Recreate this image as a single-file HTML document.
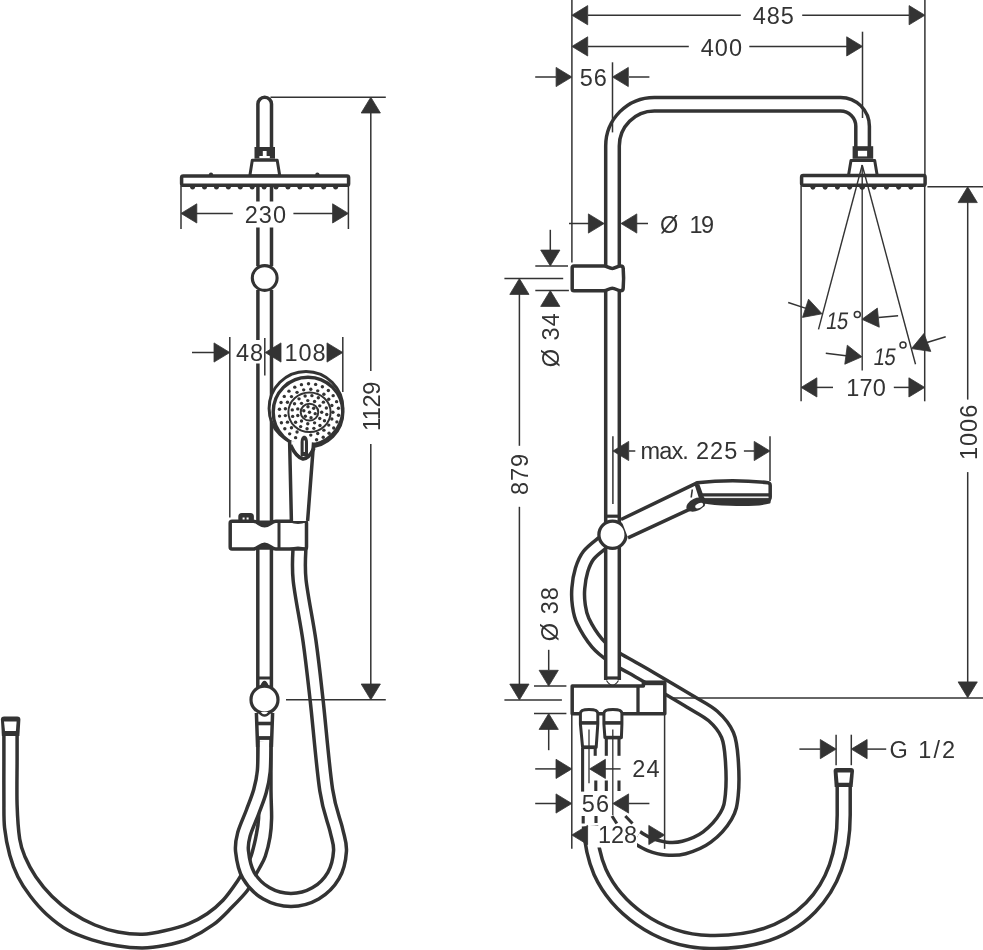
<!DOCTYPE html>
<html><head><meta charset="utf-8"><style>
html,body{margin:0;padding:0;background:#fff;}
svg{display:block;will-change:transform;}
text{font-family:"Liberation Sans",sans-serif;fill:#333;stroke:none;}
</style></head><body>
<svg width="983" height="950" viewBox="0 0 983 950" stroke="#333" stroke-linejoin="round" fill="none">
<rect x="0" y="0" width="983" height="950" fill="#fff" stroke="none"/>
<path d="M3.9,733 C3.9,737.5 3.9,748.83 3.9,760 C3.9,771.17 3.78,788.67 3.9,800 C4.02,811.33 3.62,818.8 4.6,828 C5.58,837.2 7.58,847.08 9.8,855.2 C12.02,863.32 14.47,869.85 17.9,876.7 C21.33,883.55 25.63,890.05 30.4,896.3 C35.17,902.55 40.23,908.53 46.5,914.2 C52.77,919.87 60.42,926.03 68,930.3 C75.58,934.57 83.83,937.22 92,939.8 C100.17,942.38 108.58,944.43 117,945.8 C125.42,947.17 134.6,948.05 142.5,948 C150.4,947.95 156.68,947.03 164.4,945.5 C172.12,943.97 180.65,942.27 188.8,938.8 C196.95,935.33 206.17,929.9 213.3,924.7 C220.43,919.5 225.92,913.3 231.6,907.6 C237.28,901.9 243.58,895.6 247.4,890.5 C251.22,885.4 252.48,880.75 254.5,877 C256.52,873.25 257.7,871.45 259.5,868 C261.3,864.55 263.55,861.42 265.3,856.3 C267.05,851.18 268.95,843.62 270,837.3 C271.05,830.98 271.43,826.28 271.6,818.4 C271.77,810.52 271.1,803.4 271,790 C270.9,776.6 271,746.67 271,738 L258,738 C258.07,746.67 258.3,776.6 258.4,790 C258.5,803.4 259.03,810.52 258.6,818.4 C258.17,826.28 256.83,831.77 255.8,837.3 C254.77,842.83 253.33,848.12 252.4,851.6 C251.47,855.08 251.43,855.47 250.2,858.2 C248.97,860.93 247.08,864.23 245,868 C242.92,871.77 241.37,875.42 237.7,880.8 C234.03,886.18 228.08,894.82 223,900.3 C217.92,905.78 212.9,909.83 207.2,913.7 C201.5,917.57 195.93,920.65 188.8,923.5 C181.67,926.35 172.12,929 164.4,930.8 C156.68,932.6 150.23,934.1 142.5,934.3 C134.77,934.5 125.93,933.55 118,932 C110.07,930.45 102.63,928.25 94.9,925 C87.17,921.75 78.77,917.28 71.6,912.5 C64.43,907.72 57.87,902.27 51.9,896.3 C45.93,890.33 40.27,883.25 35.8,876.7 C31.33,870.15 27.78,863.28 25.1,857 C22.42,850.72 21.03,847.67 19.7,839 C18.37,830.33 17.53,818.17 17.1,805 C16.67,791.83 17.1,772 17.1,760 C17.1,748 17.1,737.5 17.1,733 Z" stroke-width="3.5" fill="#fff"/>
<path d="M299.6,545 C299.6,550.83 297.95,564 299.6,580 C301.25,596 306.67,621 309.5,641 C312.33,661 313.82,675.17 316.6,700 C319.38,724.83 322.92,768.33 326.2,790 C329.48,811.67 334,819.83 336.3,830 C338.6,840.17 340.48,843.42 340,851 C339.52,858.58 337.52,868.43 333.44,875.5 C329.35,882.57 322.57,889.35 315.5,893.44 C308.43,897.52 299.17,900 291,900 C282.83,900 273.57,897.52 266.5,893.44 C259.43,889.35 252.65,882.57 248.56,875.5 C244.48,868.43 242.76,857.92 242,851 C241.24,844.08 242.25,840.5 244,834 C245.75,827.5 249.83,819.17 252.5,812 C255.17,804.83 258.12,797.83 260,791 C261.88,784.17 263.05,779.17 263.8,771 C264.55,762.83 264.38,746.83 264.5,742" stroke-width="16.4" fill="none"/>
<path d="M299.6,545 C299.6,550.83 297.95,564 299.6,580 C301.25,596 306.67,621 309.5,641 C312.33,661 313.82,675.17 316.6,700 C319.38,724.83 322.92,768.33 326.2,790 C329.48,811.67 334,819.83 336.3,830 C338.6,840.17 340.48,843.42 340,851 C339.52,858.58 337.52,868.43 333.44,875.5 C329.35,882.57 322.57,889.35 315.5,893.44 C308.43,897.52 299.17,900 291,900 C282.83,900 273.57,897.52 266.5,893.44 C259.43,889.35 252.65,882.57 248.56,875.5 C244.48,868.43 242.76,857.92 242,851 C241.24,844.08 242.25,840.5 244,834 C245.75,827.5 249.83,819.17 252.5,812 C255.17,804.83 258.12,797.83 260,791 C261.88,784.17 263.05,779.17 263.8,771 C264.55,762.83 264.38,746.83 264.5,742" stroke="#fff" stroke-width="9.4" fill="none"/>
<path d="M0.9,719.6 Q0.9,716.4 4.1,716.4 L17.2,716.4 Q20.4,716.4 20.4,719.6 L19.4,736 L1.9,736 Z" fill="#333" stroke="none"/>
<path d="M4,721.6 L16.6,721.6 L15.9,731.1 L5,731.1 Z" fill="#fff" stroke="none"/>
<path d="M257.9,147 V104 A6.8,6.8 0 0 1 271.5,104 V147" stroke-width="3.5" fill="none" />
<line x1="257.9" y1="186" x2="257.9" y2="201.5" stroke-width="3.5" stroke-linecap="butt"/>
<line x1="257.9" y1="227.5" x2="257.9" y2="266" stroke-width="3.5" stroke-linecap="butt"/>
<line x1="257.9" y1="290" x2="257.9" y2="340" stroke-width="3.5" stroke-linecap="butt"/>
<line x1="271.5" y1="186" x2="271.5" y2="201.5" stroke-width="3.5" stroke-linecap="butt"/>
<line x1="271.5" y1="227.5" x2="271.5" y2="266" stroke-width="3.5" stroke-linecap="butt"/>
<line x1="271.5" y1="290" x2="271.5" y2="521" stroke-width="3.5" stroke-linecap="butt"/>
<line x1="257.9" y1="363.5" x2="257.9" y2="521" stroke-width="3.5" stroke-linecap="butt"/>
<line x1="257.8" y1="549" x2="257.8" y2="688" stroke-width="3.5" stroke-linecap="butt"/>
<line x1="271.4" y1="549" x2="271.4" y2="688" stroke-width="3.5" stroke-linecap="butt"/>
<rect x="254.5" y="147" width="20.5" height="11.7" fill="#333" stroke="none"/>
<rect x="262.8" y="151" width="3.8" height="6.2" fill="#fff" stroke="none"/><rect x="259.4" y="156" width="10.4" height="2" fill="#fff" stroke="none"/>
<path d="M252.3,160.3 L277.2,160.3 L279.8,176 L249.8,176 Z" stroke-width="3" fill="#fff" />
<rect x="181.6" y="176" width="167" height="9.3" rx="1.6" stroke-width="3.5" fill="#fff"/>
<circle cx="211" cy="174.6" r="2.1" fill="#333" stroke="none"/>
<circle cx="317.4" cy="174.6" r="2.1" fill="#333" stroke="none"/>
<circle cx="192.6" cy="187.2" r="2.4" fill="#333" stroke="none"/>
<circle cx="204.52" cy="187.2" r="2.4" fill="#333" stroke="none"/>
<circle cx="216.44" cy="187.2" r="2.4" fill="#333" stroke="none"/>
<circle cx="228.36" cy="187.2" r="2.4" fill="#333" stroke="none"/>
<circle cx="240.28" cy="187.2" r="2.4" fill="#333" stroke="none"/>
<circle cx="252.2" cy="187.2" r="2.4" fill="#333" stroke="none"/>
<circle cx="264.12" cy="187.2" r="2.4" fill="#333" stroke="none"/>
<circle cx="276.04" cy="187.2" r="2.4" fill="#333" stroke="none"/>
<circle cx="287.96" cy="187.2" r="2.4" fill="#333" stroke="none"/>
<circle cx="299.88" cy="187.2" r="2.4" fill="#333" stroke="none"/>
<circle cx="311.8" cy="187.2" r="2.4" fill="#333" stroke="none"/>
<circle cx="323.72" cy="187.2" r="2.4" fill="#333" stroke="none"/>
<circle cx="335.64" cy="187.2" r="2.4" fill="#333" stroke="none"/>
<circle cx="264.7" cy="278" r="12.4" stroke-width="3.1" fill="#fff"/>
<line x1="257.6" y1="678" x2="271.4" y2="678" stroke-width="3" stroke-linecap="butt"/>
<path d="M261.5,686 Q264.5,678 267.5,686" stroke-width="2.5" fill="#333" />
<path d="M256.4,713 L257.6,747 M272.6,713 L271.4,747" stroke-width="3.5" fill="none" />
<line x1="256.6" y1="723.5" x2="272.4" y2="723.5" stroke-width="3.6" stroke-linecap="butt"/>
<line x1="257.2" y1="738" x2="271.8" y2="738" stroke-width="3.2" stroke-linecap="butt"/>
<circle cx="264.5" cy="699.7" r="13.5" stroke-width="3.2" fill="#fff"/>
<path d="M259,712 Q264.5,719 270,712" stroke-width="2.5" fill="#fff" />
<path d="M232,521.3 L253.4,521.3 C257.5,521.3 260,525.8 264.6,525.8 C269.2,525.8 271.7,521.3 275.8,521.3 L304.6,521.3 Q306.5,521.3 306.5,523.3 L306.5,547 Q306.5,549 304.6,549 L275.8,549 C271.7,549 269.2,544.3 264.6,544.3 C260,544.3 257.5,549 253.4,549 L232,549 Q230.2,549 230.2,547 L230.2,523.3 Q230.2,521.3 232,521.3 Z" stroke-width="3.5" fill="#fff" />
<path d="M253.4,521.3 C257.5,521.3 260,525.8 264.6,525.8 C269.2,525.8 271.7,521.3 275.8,521.3 Z" stroke-width="1.5" fill="#333" />
<path d="M253.4,549 C257.5,549 260,544.3 264.6,544.3 C269.2,544.3 271.7,549 275.8,549 Z" stroke-width="1.5" fill="#333" />
<line x1="279" y1="521.3" x2="279" y2="549" stroke-width="3" stroke-linecap="butt"/>
<path d="M290,521.3 Q298,524.5 306,521.3" stroke-width="2.2" fill="none" />
<path d="M290,549 Q298,546 306,549" stroke-width="2.2" fill="none" />
<rect x="239.6" y="514.4" width="13" height="7" rx="2.2" stroke-width="2.6" fill="#333"/>
<rect x="242.6" y="517.5" width="2" height="2" fill="#fff" stroke="none"/><rect x="246.6" y="517.5" width="2" height="2" fill="#fff" stroke="none"/>
<circle cx="306" cy="408.4" r="36.9" stroke-width="3.0" fill="#fff"/>
<circle cx="308" cy="412" r="34.8" stroke-width="3.4" fill="none"/>
<ellipse cx="309.5" cy="412.2" rx="21.1" ry="19.8" stroke-width="2"/>
<ellipse cx="309.5" cy="412.2" rx="8.8" ry="8.4" stroke-width="2"/>
<circle cx="309.5" cy="412.2" r="1.7" fill="#333" stroke="none"/>
<circle cx="315.2" cy="413.67" r="1.7" fill="#333" stroke="none"/>
<circle cx="311.03" cy="417.67" r="1.7" fill="#333" stroke="none"/>
<circle cx="305.33" cy="416.21" r="1.7" fill="#333" stroke="none"/>
<circle cx="303.8" cy="410.73" r="1.7" fill="#333" stroke="none"/>
<circle cx="307.97" cy="406.73" r="1.7" fill="#333" stroke="none"/>
<circle cx="313.67" cy="408.19" r="1.7" fill="#333" stroke="none"/>
<circle cx="321.7" cy="412.2" r="1.7" fill="#333" stroke="none"/>
<circle cx="319.76" cy="418.53" r="1.7" fill="#333" stroke="none"/>
<circle cx="314.57" cy="422.85" r="1.7" fill="#333" stroke="none"/>
<circle cx="307.76" cy="423.79" r="1.7" fill="#333" stroke="none"/>
<circle cx="301.51" cy="421.05" r="1.7" fill="#333" stroke="none"/>
<circle cx="297.79" cy="415.5" r="1.7" fill="#333" stroke="none"/>
<circle cx="297.79" cy="408.9" r="1.7" fill="#333" stroke="none"/>
<circle cx="301.51" cy="403.35" r="1.7" fill="#333" stroke="none"/>
<circle cx="307.76" cy="400.61" r="1.7" fill="#333" stroke="none"/>
<circle cx="314.57" cy="401.55" r="1.7" fill="#333" stroke="none"/>
<circle cx="319.76" cy="405.87" r="1.7" fill="#333" stroke="none"/>
<circle cx="326.73" cy="414.52" r="1.7" fill="#333" stroke="none"/>
<circle cx="324.49" cy="420.68" r="1.7" fill="#333" stroke="none"/>
<circle cx="319.97" cy="425.54" r="1.7" fill="#333" stroke="none"/>
<circle cx="313.86" cy="428.37" r="1.7" fill="#333" stroke="none"/>
<circle cx="307.08" cy="428.74" r="1.7" fill="#333" stroke="none"/>
<circle cx="300.67" cy="426.59" r="1.7" fill="#333" stroke="none"/>
<circle cx="295.6" cy="422.25" r="1.7" fill="#333" stroke="none"/>
<circle cx="292.65" cy="416.38" r="1.7" fill="#333" stroke="none"/>
<circle cx="292.27" cy="409.88" r="1.7" fill="#333" stroke="none"/>
<circle cx="294.51" cy="403.72" r="1.7" fill="#333" stroke="none"/>
<circle cx="299.03" cy="398.86" r="1.7" fill="#333" stroke="none"/>
<circle cx="305.14" cy="396.03" r="1.7" fill="#333" stroke="none"/>
<circle cx="311.92" cy="395.66" r="1.7" fill="#333" stroke="none"/>
<circle cx="318.33" cy="397.81" r="1.7" fill="#333" stroke="none"/>
<circle cx="323.4" cy="402.15" r="1.7" fill="#333" stroke="none"/>
<circle cx="326.35" cy="408.02" r="1.7" fill="#333" stroke="none"/>
<circle cx="332.9" cy="412.2" r="1.7" fill="#333" stroke="none"/>
<circle cx="331.84" cy="418.96" r="1.7" fill="#333" stroke="none"/>
<circle cx="328.75" cy="425.12" r="1.7" fill="#333" stroke="none"/>
<circle cx="323.9" cy="430.14" r="1.7" fill="#333" stroke="none"/>
<circle cx="317.73" cy="433.56" r="1.7" fill="#333" stroke="none"/>
<circle cx="310.79" cy="435.08" r="1.7" fill="#333" stroke="none"/>
<circle cx="297.05" cy="432.07" r="1.7" fill="#333" stroke="none"/>
<circle cx="291.48" cy="427.81" r="1.7" fill="#333" stroke="none"/>
<circle cx="287.47" cy="422.16" r="1.7" fill="#333" stroke="none"/>
<circle cx="285.37" cy="415.62" r="1.7" fill="#333" stroke="none"/>
<circle cx="285.37" cy="408.78" r="1.7" fill="#333" stroke="none"/>
<circle cx="287.47" cy="402.24" r="1.7" fill="#333" stroke="none"/>
<circle cx="291.48" cy="396.59" r="1.7" fill="#333" stroke="none"/>
<circle cx="297.05" cy="392.33" r="1.7" fill="#333" stroke="none"/>
<circle cx="303.68" cy="389.83" r="1.7" fill="#333" stroke="none"/>
<circle cx="310.79" cy="389.32" r="1.7" fill="#333" stroke="none"/>
<circle cx="317.73" cy="390.84" r="1.7" fill="#333" stroke="none"/>
<circle cx="323.9" cy="394.26" r="1.7" fill="#333" stroke="none"/>
<circle cx="328.75" cy="399.28" r="1.7" fill="#333" stroke="none"/>
<circle cx="331.84" cy="405.44" r="1.7" fill="#333" stroke="none"/>
<circle cx="338.54" cy="415.18" r="1.7" fill="#333" stroke="none"/>
<circle cx="336.94" cy="421.88" r="1.7" fill="#333" stroke="none"/>
<circle cx="333.71" cy="428.02" r="1.7" fill="#333" stroke="none"/>
<circle cx="329.05" cy="433.23" r="1.7" fill="#333" stroke="none"/>
<circle cx="323.22" cy="437.23" r="1.7" fill="#333" stroke="none"/>
<circle cx="316.57" cy="439.77" r="1.7" fill="#333" stroke="none"/>
<circle cx="295.62" cy="437.66" r="1.7" fill="#333" stroke="none"/>
<circle cx="289.67" cy="433.84" r="1.7" fill="#333" stroke="none"/>
<circle cx="284.83" cy="428.77" r="1.7" fill="#333" stroke="none"/>
<circle cx="281.4" cy="422.74" r="1.7" fill="#333" stroke="none"/>
<circle cx="279.58" cy="416.09" r="1.7" fill="#333" stroke="none"/>
<circle cx="279.46" cy="409.22" r="1.7" fill="#333" stroke="none"/>
<circle cx="281.06" cy="402.52" r="1.7" fill="#333" stroke="none"/>
<circle cx="284.29" cy="396.38" r="1.7" fill="#333" stroke="none"/>
<circle cx="288.95" cy="391.17" r="1.7" fill="#333" stroke="none"/>
<circle cx="294.78" cy="387.17" r="1.7" fill="#333" stroke="none"/>
<circle cx="301.43" cy="384.63" r="1.7" fill="#333" stroke="none"/>
<circle cx="308.52" cy="383.69" r="1.7" fill="#333" stroke="none"/>
<circle cx="315.64" cy="384.41" r="1.7" fill="#333" stroke="none"/>
<circle cx="322.38" cy="386.74" r="1.7" fill="#333" stroke="none"/>
<circle cx="328.33" cy="390.56" r="1.7" fill="#333" stroke="none"/>
<circle cx="333.17" cy="395.63" r="1.7" fill="#333" stroke="none"/>
<circle cx="336.6" cy="401.66" r="1.7" fill="#333" stroke="none"/>
<circle cx="338.42" cy="408.31" r="1.7" fill="#333" stroke="none"/>
<path d="M289.6,441 L313.6,442 L307.6,521 L291.4,521 Z" stroke-width="0" fill="#fff" stroke="none"/>
<path d="M289.6,440.5 L291.4,521 M313.6,442.5 L307.6,521" stroke-width="3.5" fill="none" />
<path d="M290.5,445 Q303,471 314,448" stroke-width="3.8" fill="none" />
<path d="M292.5,448.5 Q303,466 312.5,450.5" stroke-width="1.8" fill="none" />
<path d="M300.6,456 L300.6,442.5 C300.6,438.5 302.2,435.8 304.3,435.8 C306.4,435.8 308,438.5 308,442.5 L308,456 Z" fill="#333" stroke="none"/>
<line x1="304.3" y1="440.5" x2="304.3" y2="452" stroke="#fff" stroke-width="1.3"/>
<line x1="270.5" y1="97.2" x2="385.8" y2="97.2" stroke-width="1.5" stroke-linecap="butt"/>
<line x1="286" y1="699.8" x2="385.8" y2="699.8" stroke-width="1.5" stroke-linecap="butt"/>
<line x1="370.8" y1="110" x2="370.8" y2="371" stroke-width="1.5" stroke-linecap="butt"/>
<line x1="370.8" y1="444" x2="370.8" y2="688" stroke-width="1.5" stroke-linecap="butt"/>
<polygon points="370.8,97.2 380.4,113 361.2,113" fill="#333" stroke="#333" stroke-width="0.8"/>
<polygon points="370.8,699.8 361.2,684 380.4,684" fill="#333" stroke="#333" stroke-width="0.8"/>
<text x="379.9" y="406.6" font-size="23.5" text-anchor="middle" transform="rotate(-90 379.9 406.6)" letter-spacing="-0.4">1129</text>
<line x1="181" y1="186" x2="181" y2="229" stroke-width="1.5" stroke-linecap="butt"/>
<line x1="348.4" y1="186" x2="348.4" y2="229" stroke-width="1.5" stroke-linecap="butt"/>
<line x1="194" y1="213.4" x2="232.8" y2="213.4" stroke-width="1.5" stroke-linecap="butt"/>
<line x1="293.4" y1="213.4" x2="335" y2="213.4" stroke-width="1.5" stroke-linecap="butt"/>
<polygon points="181,213.4 196.8,203.8 196.8,223" fill="#333" stroke="#333" stroke-width="0.8"/>
<polygon points="348.4,213.4 332.6,223 332.6,203.8" fill="#333" stroke="#333" stroke-width="0.8"/>
<text x="265.9" y="222.6" font-size="23.5" text-anchor="middle" letter-spacing="1.0">230</text>
<line x1="192" y1="352.5" x2="215" y2="352.5" stroke-width="1.5" stroke-linecap="butt"/>
<polygon points="229.8,352.5 214,362.1 214,342.9" fill="#333" stroke="#333" stroke-width="0.8"/>
<polygon points="265.2,352.5 281,342.9 281,362.1" fill="#333" stroke="#333" stroke-width="0.8"/>
<polygon points="342.8,352.5 327,362.1 327,342.9" fill="#333" stroke="#333" stroke-width="0.8"/>
<line x1="229.8" y1="337" x2="229.8" y2="517.5" stroke-width="1.5" stroke-linecap="butt"/>
<line x1="264.8" y1="338" x2="264.8" y2="375.6" stroke-width="1.5" stroke-linecap="butt"/>
<line x1="342.8" y1="337" x2="342.8" y2="392" stroke-width="1.5" stroke-linecap="butt"/>
<text x="250.1" y="361.4" font-size="23.5" text-anchor="middle" letter-spacing="1.0">48</text>
<text x="305.5" y="361.4" font-size="23.5" text-anchor="middle" letter-spacing="1.0">108</text>
<path d="M603,542.5 C600.6,544.62 592.17,550.63 588.6,555.2 C585.03,559.77 583.32,564.37 581.6,569.9 C579.88,575.43 578.77,582.55 578.3,588.4 C577.83,594.25 578.02,599.57 578.8,605 C579.58,610.43 579.97,614.67 583,621 C586.03,627.33 592,637.08 597,643 C602,648.92 607.17,652.42 613,656.5 C618.83,660.58 625.5,663.75 632,667.5 C638.5,671.25 642.33,673.33 652,679 C661.67,684.67 679.83,695.33 690,701.5 C700.17,707.67 706.75,710.42 713,716 C719.25,721.58 724.37,727.67 727.5,735 C730.63,742.33 731.08,750 731.8,760 C732.52,770 732.77,785.67 731.8,795 C730.83,804.33 730.13,809 726,816 C721.87,823 714,831.75 707,837 C700,842.25 690.83,845.57 684,847.5 C677.17,849.43 671.67,849.1 666,848.6 C660.33,848.1 654.83,846.35 650,844.5 C645.17,842.65 639.17,838.67 637,837.5" stroke-width="16.4" fill="none"/>
<path d="M603,542.5 C600.6,544.62 592.17,550.63 588.6,555.2 C585.03,559.77 583.32,564.37 581.6,569.9 C579.88,575.43 578.77,582.55 578.3,588.4 C577.83,594.25 578.02,599.57 578.8,605 C579.58,610.43 579.97,614.67 583,621 C586.03,627.33 592,637.08 597,643 C602,648.92 607.17,652.42 613,656.5 C618.83,660.58 625.5,663.75 632,667.5 C638.5,671.25 642.33,673.33 652,679 C661.67,684.67 679.83,695.33 690,701.5 C700.17,707.67 706.75,710.42 713,716 C719.25,721.58 724.37,727.67 727.5,735 C730.63,742.33 731.08,750 731.8,760 C732.52,770 732.77,785.67 731.8,795 C730.83,804.33 730.13,809 726,816 C721.87,823 714,831.75 707,837 C700,842.25 690.83,845.57 684,847.5 C677.17,849.43 671.67,849.1 666,848.6 C660.33,848.1 654.83,846.35 650,844.5 C645.17,842.65 639.17,838.67 637,837.5" stroke="#fff" stroke-width="9.4" fill="none"/>
<path d="M843.7,783 L843.7,815 C843.7,890 800,944 710,942 C655,941 615,905 600,872 C594,858 591,845 590,826" stroke-width="16.5" fill="none"/>
<path d="M843.7,783 L843.7,815 C843.7,890 800,944 710,942 C655,941 615,905 600,872 C594,858 591,845 590,826" stroke="#fff" stroke-width="9.5" fill="none"/>
<path d="M833.6,771 Q833.6,768 836.6,768 L851,768 Q854,768 854,771 L852.6,787 L834.7,787 Z" fill="#333" stroke="none"/>
<path d="M837.6,772.6 L850.3,772.6 L849.2,782.7 L838.5,782.7 Z" fill="#fff" stroke="none"/>
<path d="M612.5,680 V146 A41.8,41.8 0 0 1 654.3,104.2 H840.5 A22.1,22.1 0 0 1 862.6,126.3 V147" stroke-width="17.1" fill="none"/>
<path d="M612.5,680 V146 A41.8,41.8 0 0 1 654.3,104.2 H840.5 A22.1,22.1 0 0 1 862.6,126.3 V147" stroke="#fff" stroke-width="10.1" fill="none"/>
<rect x="852.6" y="146.2" width="20.6" height="12.6" fill="#333" stroke="none"/>
<rect x="857.9" y="150.8" width="9.2" height="5.6" fill="#fff" stroke="none"/>
<path d="M851,160.6 L874.7,160.6 L877.3,176 L848.4,176 Z" stroke-width="3" fill="#fff" />
<rect x="801.6" y="175.6" width="123.5" height="9.6" rx="1.6" stroke-width="3.5" fill="#fff"/>
<circle cx="812.9" cy="187.3" r="2.4" fill="#333" stroke="none"/>
<circle cx="825.15" cy="187.3" r="2.4" fill="#333" stroke="none"/>
<circle cx="837.4" cy="187.3" r="2.4" fill="#333" stroke="none"/>
<circle cx="849.65" cy="187.3" r="2.4" fill="#333" stroke="none"/>
<circle cx="861.9" cy="187.3" r="2.4" fill="#333" stroke="none"/>
<circle cx="874.15" cy="187.3" r="2.4" fill="#333" stroke="none"/>
<circle cx="886.4" cy="187.3" r="2.4" fill="#333" stroke="none"/>
<circle cx="898.65" cy="187.3" r="2.4" fill="#333" stroke="none"/>
<circle cx="910.9" cy="187.3" r="2.4" fill="#333" stroke="none"/>
<circle cx="862.6" cy="187.3" r="2.4" fill="#333" stroke="none"/>
<path d="M574,265.9 L604,265.9 C607,265.9 609,268.4 612.3,268.4 C615.5,268.4 617.5,265.9 620.5,265.9 Q623.2,265.9 623.2,268.5 C623.8,276 623.8,281 623.2,288 Q623.2,290.8 620.5,290.8 C617.5,290.8 615.5,288.2 612.3,288.2 C609,288.2 607,290.8 604,290.8 L574,290.8 Q572.2,290.8 572.2,289 L572.2,267.7 Q572.2,265.9 574,265.9 Z" stroke-width="3.5" fill="#fff" />
<line x1="605.7" y1="516.2" x2="619.3" y2="516.2" stroke-width="3.2" stroke-linecap="butt"/>
<circle cx="612.5" cy="534.8" r="13.6" stroke-width="3.3" fill="#fff"/>
<line x1="605.7" y1="678" x2="619.3" y2="678" stroke-width="3.2" stroke-linecap="butt"/>
<path d="M606.5,680.5 Q612.5,690 618.5,680.5" stroke-width="1.2" fill="none" />
<path d="M621,519.5 L696,483.4 L703,505 L687.3,510.3 L628,537.8" stroke-width="3.5" fill="#fff" />
<path d="M697,482.8 Q733,478.5 768,482.8 Q770.2,483.2 770.2,485.5 L770.2,497 Q770.2,499.5 768,499.5 L703,499.5 Z" stroke-width="3.5" fill="#fff" />
<line x1="701.8" y1="494.9" x2="770.2" y2="494.9" stroke-width="3.2" stroke-linecap="butt"/>
<path d="M703.5,499.5 L770,499.5 L769.5,502.5 C760,505 745,505.5 730,504.8 C718,504.5 710,503.8 704,502.5 Z" stroke-width="2" fill="#333" />
<line x1="705" y1="497.6" x2="768.5" y2="497.6" stroke-width="1.1" stroke-linecap="butt"/>
<line x1="705" y1="497.6" x2="768.5" y2="497.6" stroke="#fff" stroke-width="1"/>
<line x1="692.3" y1="489.5" x2="691.2" y2="497.5" stroke-width="1.6" stroke-linecap="butt"/>
<ellipse cx="696" cy="504.6" rx="10.2" ry="6.2" transform="rotate(-25 696 504.6)" fill="#333" stroke="none"/>
<ellipse cx="699.2" cy="505.6" rx="4.2" ry="2.3" transform="rotate(-25 699.2 505.6)" fill="#fff" stroke="none"/>
<path d="M572.2,685.9 L643.4,685.9 L643.4,682.6 L664.8,682.6 L664.8,713.7 L572.2,713.7 Z" stroke-width="3.5" fill="#fff"/>
<line x1="643.4" y1="682.9" x2="664.8" y2="682.9" stroke-width="4.6" stroke-linecap="butt"/>
<line x1="638" y1="685.9" x2="638" y2="713.7" stroke-width="3.3" stroke-linecap="butt"/>
<path d="M580.4,713.5 Q580.4,709.6 589,709.6 Q597.8,709.6 597.8,713.5 L597.8,724 L596.2,747.3 L582.6,747.3 L580.4,724 Z" stroke-width="3" fill="#fff" />
<line x1="580.4" y1="722.9" x2="597.8" y2="722.9" stroke-width="3.6" stroke-linecap="butt"/>
<line x1="582.6" y1="747.3" x2="596.2" y2="747.3" stroke-width="3.6" stroke-linecap="butt"/>
<path d="M603.9,713.5 Q603.9,709.6 612.9,709.6 Q621.9,709.6 621.9,713.5 L621.9,724 L621.4,737.6 L604.9,737.6 L603.9,724 Z" stroke-width="3" fill="#fff" />
<line x1="603.9" y1="722.9" x2="621.9" y2="722.9" stroke-width="3.6" stroke-linecap="butt"/>
<line x1="604.9" y1="737.6" x2="621.4" y2="737.6" stroke-width="3.6" stroke-linecap="butt"/>
<line x1="582.6" y1="748" x2="582.6" y2="791.6" stroke-width="3.1" stroke-linecap="butt"/>
<line x1="595.2" y1="748" x2="595.2" y2="755.8" stroke-width="3.1" stroke-linecap="butt"/>
<line x1="606.3" y1="739" x2="606.3" y2="755.8" stroke-width="3.1" stroke-linecap="butt"/>
<line x1="619" y1="739" x2="619" y2="755.8" stroke-width="3.1" stroke-linecap="butt"/>
<line x1="595.8" y1="780.5" x2="595.8" y2="791" stroke-width="3.1" stroke-linecap="butt"/>
<line x1="606.3" y1="780.5" x2="606.3" y2="791" stroke-width="3.1" stroke-linecap="butt"/>
<line x1="619" y1="780.5" x2="619" y2="791" stroke-width="3.1" stroke-linecap="butt"/>
<line x1="583.2" y1="816" x2="583.2" y2="823.5" stroke-width="3.1" stroke-linecap="butt"/>
<line x1="596" y1="816" x2="596" y2="823" stroke-width="3.1" stroke-linecap="butt"/>
<line x1="612" y1="816" x2="616.8" y2="823.5" stroke-width="3.1" stroke-linecap="butt"/>
<line x1="625.3" y1="816" x2="632.5" y2="823.5" stroke-width="3.1" stroke-linecap="butt"/>
<line x1="589" y1="729.5" x2="589" y2="783.2" stroke-width="1.3" stroke-linecap="butt"/>
<line x1="612.8" y1="729.5" x2="612.8" y2="815" stroke-width="1.3" stroke-linecap="butt"/>
<line x1="571.9" y1="0" x2="571.9" y2="262.5" stroke-width="1.5" stroke-linecap="butt"/>
<line x1="924.9" y1="0" x2="924.9" y2="186.5" stroke-width="1.5" stroke-linecap="butt"/>
<line x1="862.5" y1="31.7" x2="862.5" y2="118" stroke-width="1.5" stroke-linecap="butt"/>
<line x1="612.5" y1="62.3" x2="612.5" y2="132.4" stroke-width="1.5" stroke-linecap="butt"/>
<line x1="588" y1="15.2" x2="740.8" y2="15.2" stroke-width="1.5" stroke-linecap="butt"/>
<line x1="802.2" y1="15.2" x2="909" y2="15.2" stroke-width="1.5" stroke-linecap="butt"/>
<polygon points="571.9,15.2 587.7,5.6 587.7,24.8" fill="#333" stroke="#333" stroke-width="0.8"/>
<polygon points="924.9,15.2 909.1,24.8 909.1,5.6" fill="#333" stroke="#333" stroke-width="0.8"/>
<text x="773.8" y="24.3" font-size="23.5" text-anchor="middle" letter-spacing="1.0">485</text>
<line x1="588" y1="46.4" x2="688.8" y2="46.4" stroke-width="1.5" stroke-linecap="butt"/>
<line x1="749.3" y1="46.4" x2="847" y2="46.4" stroke-width="1.5" stroke-linecap="butt"/>
<polygon points="571.9,46.4 587.7,36.8 587.7,56" fill="#333" stroke="#333" stroke-width="0.8"/>
<polygon points="862.5,46.4 846.7,56 846.7,36.8" fill="#333" stroke="#333" stroke-width="0.8"/>
<text x="721.9" y="55.6" font-size="23.5" text-anchor="middle" letter-spacing="1.0">400</text>
<line x1="535.2" y1="77" x2="556" y2="77" stroke-width="1.5" stroke-linecap="butt"/>
<line x1="629" y1="77" x2="649.4" y2="77" stroke-width="1.5" stroke-linecap="butt"/>
<polygon points="571.9,77 556.1,86.6 556.1,67.4" fill="#333" stroke="#333" stroke-width="0.8"/>
<polygon points="612.5,77 628.3,67.4 628.3,86.6" fill="#333" stroke="#333" stroke-width="0.8"/>
<text x="593.7" y="85.6" font-size="23.5" text-anchor="middle" letter-spacing="1.0">56</text>
<line x1="569" y1="223.5" x2="590" y2="223.5" stroke-width="1.5" stroke-linecap="butt"/>
<line x1="636" y1="223.5" x2="648" y2="223.5" stroke-width="1.5" stroke-linecap="butt"/>
<polygon points="604.2,223.5 588.4,233.1 588.4,213.9" fill="#333" stroke="#333" stroke-width="0.8"/>
<polygon points="621,223.5 636.8,213.9 636.8,233.1" fill="#333" stroke="#333" stroke-width="0.8"/>
<text x="660" y="232.6" font-size="23.5" text-anchor="start" letter-spacing="1.0">Ø</text>
<text x="689.5" y="232.6" font-size="23.5" text-anchor="start" letter-spacing="-1.5">19</text>
<line x1="535.3" y1="265.9" x2="568" y2="265.9" stroke-width="1.5" stroke-linecap="butt"/>
<line x1="535.3" y1="290.6" x2="568.9" y2="290.6" stroke-width="1.5" stroke-linecap="butt"/>
<line x1="550.3" y1="229.8" x2="550.3" y2="250" stroke-width="1.5" stroke-linecap="butt"/>
<polygon points="550.3,265.9 540.7,250.1 559.9,250.1" fill="#333" stroke="#333" stroke-width="0.8"/>
<polygon points="550.3,290.6 559.9,306.4 540.7,306.4" fill="#333" stroke="#333" stroke-width="0.8"/>
<text x="559.5" y="339.7" font-size="23.5" text-anchor="middle" transform="rotate(-90 559.5 339.7)" letter-spacing="1.0">Ø 34</text>
<line x1="504.4" y1="278.6" x2="563.2" y2="278.6" stroke-width="1.5" stroke-linecap="butt"/>
<line x1="504.4" y1="699.9" x2="561.9" y2="699.9" stroke-width="1.5" stroke-linecap="butt"/>
<line x1="519.4" y1="293" x2="519.4" y2="445.8" stroke-width="1.5" stroke-linecap="butt"/>
<line x1="519.4" y1="506.8" x2="519.4" y2="685" stroke-width="1.5" stroke-linecap="butt"/>
<polygon points="519.4,278.6 529,294.4 509.8,294.4" fill="#333" stroke="#333" stroke-width="0.8"/>
<polygon points="519.4,699.9 509.8,684.1 529,684.1" fill="#333" stroke="#333" stroke-width="0.8"/>
<text x="528" y="474" font-size="23.5" text-anchor="middle" transform="rotate(-90 528 474)" letter-spacing="1.0">879</text>
<line x1="534" y1="686.1" x2="566.4" y2="686.1" stroke-width="1.5" stroke-linecap="butt"/>
<line x1="534" y1="713.6" x2="566.4" y2="713.6" stroke-width="1.5" stroke-linecap="butt"/>
<line x1="548.7" y1="649.8" x2="548.7" y2="670" stroke-width="1.5" stroke-linecap="butt"/>
<polygon points="548.7,686.1 539.1,670.3 558.3,670.3" fill="#333" stroke="#333" stroke-width="0.8"/>
<line x1="548.7" y1="729" x2="548.7" y2="750.2" stroke-width="1.5" stroke-linecap="butt"/>
<polygon points="548.7,713.6 558.3,729.4 539.1,729.4" fill="#333" stroke="#333" stroke-width="0.8"/>
<text x="557.7" y="613.7" font-size="23.5" text-anchor="middle" transform="rotate(-90 557.7 613.7)" letter-spacing="1.0">Ø 38</text>
<line x1="612.9" y1="436.2" x2="612.9" y2="504.1" stroke-width="1.5" stroke-linecap="butt"/>
<line x1="770" y1="436.2" x2="770" y2="481" stroke-width="1.5" stroke-linecap="butt"/>
<line x1="629" y1="451" x2="635.3" y2="451" stroke-width="1.5" stroke-linecap="butt"/>
<line x1="743.9" y1="451" x2="754.5" y2="451" stroke-width="1.5" stroke-linecap="butt"/>
<polygon points="612.9,451 628.7,441.4 628.7,460.6" fill="#333" stroke="#333" stroke-width="0.8"/>
<polygon points="770,451 754.2,460.6 754.2,441.4" fill="#333" stroke="#333" stroke-width="0.8"/>
<text x="640.6" y="459.4" font-size="23.5" text-anchor="start" letter-spacing="-0.9">max.</text>
<text x="696" y="459.4" font-size="23.5" text-anchor="start" letter-spacing="1.0">225</text>
<line x1="862.2" y1="165" x2="862.2" y2="370.6" stroke-width="1.4" stroke-linecap="butt"/>
<line x1="862.2" y1="165" x2="818.5" y2="329.4" stroke-width="1.4" stroke-linecap="butt"/>
<line x1="862.2" y1="165" x2="915.5" y2="364.2" stroke-width="1.4" stroke-linecap="butt"/>
<line x1="801.1" y1="186" x2="801.1" y2="401.3" stroke-width="1.5" stroke-linecap="butt"/>
<line x1="924.7" y1="186" x2="924.7" y2="401.3" stroke-width="1.5" stroke-linecap="butt"/>
<line x1="788.2" y1="302.5" x2="806" y2="308.4" stroke-width="1.5" stroke-linecap="butt"/>
<polygon points="822.1,313.8 802.47,317.4 808.52,299.18" fill="#333" stroke="#333" stroke-width="0.8"/>
<polygon points="861.9,319.3 877.36,308.1 879.28,327.2" fill="#333" stroke="#333" stroke-width="0.8"/>
<line x1="878.5" y1="317.6" x2="898.1" y2="315.8" stroke-width="1.5" stroke-linecap="butt"/>
<line x1="825.8" y1="353.2" x2="846" y2="355.8" stroke-width="1.5" stroke-linecap="butt"/>
<polygon points="861.9,356.8 844.79,364.24 847.29,345.2" fill="#333" stroke="#333" stroke-width="0.8"/>
<polygon points="911.5,348.6 923.89,333.51 930.82,351.42" fill="#333" stroke="#333" stroke-width="0.8"/>
<line x1="927" y1="342.5" x2="945.7" y2="336.7" stroke-width="1.5" stroke-linecap="butt"/>
<text transform="translate(825.2,329.4) skewX(-9) scale(0.86,1.02)" font-size="23.5" letter-spacing="-0.5">15</text>
<text transform="translate(872.8,365.1) skewX(-9) scale(0.86,1.02)" font-size="23.5" letter-spacing="-0.5">15</text>
<circle cx="857.3" cy="314.4" r="3" stroke-width="1.5" fill="none"/>
<circle cx="903" cy="344.9" r="3" stroke-width="1.5" fill="none"/>
<line x1="816" y1="387.4" x2="833" y2="387.4" stroke-width="1.5" stroke-linecap="butt"/>
<line x1="893.8" y1="387.4" x2="909" y2="387.4" stroke-width="1.5" stroke-linecap="butt"/>
<polygon points="801.1,387.4 816.9,377.8 816.9,397" fill="#333" stroke="#333" stroke-width="0.8"/>
<polygon points="924.7,387.4 908.9,397 908.9,377.8" fill="#333" stroke="#333" stroke-width="0.8"/>
<text x="866.1" y="396.2" font-size="23.5" text-anchor="middle" letter-spacing="0.2">170</text>
<line x1="927.4" y1="186.8" x2="983" y2="186.8" stroke-width="1.5" stroke-linecap="butt"/>
<line x1="670" y1="697.9" x2="983" y2="697.9" stroke-width="1.5" stroke-linecap="butt"/>
<line x1="967.7" y1="200" x2="967.7" y2="399.6" stroke-width="1.5" stroke-linecap="butt"/>
<line x1="967.7" y1="472.1" x2="967.7" y2="684" stroke-width="1.5" stroke-linecap="butt"/>
<polygon points="967.7,186.8 977.3,202.6 958.1,202.6" fill="#333" stroke="#333" stroke-width="0.8"/>
<polygon points="967.7,697.7 958.1,681.9 977.3,681.9" fill="#333" stroke="#333" stroke-width="0.8"/>
<text x="976.8" y="431.9" font-size="23.5" text-anchor="middle" transform="rotate(-90 976.8 431.9)" letter-spacing="1.0">1006</text>
<line x1="571.8" y1="715" x2="571.8" y2="848.8" stroke-width="1.5" stroke-linecap="butt"/>
<line x1="664.6" y1="715" x2="664.6" y2="848.8" stroke-width="1.5" stroke-linecap="butt"/>
<line x1="535.2" y1="768.9" x2="556" y2="768.9" stroke-width="1.5" stroke-linecap="butt"/>
<polygon points="571.8,768.9 556,778.5 556,759.3" fill="#333" stroke="#333" stroke-width="0.8"/>
<polygon points="589.6,768.9 605.4,759.3 605.4,778.5" fill="#333" stroke="#333" stroke-width="0.8"/>
<line x1="605" y1="768.9" x2="620.6" y2="768.9" stroke-width="1.5" stroke-linecap="butt"/>
<text x="646.4" y="777" font-size="23.5" text-anchor="middle" letter-spacing="1.0">24</text>
<line x1="535.2" y1="803.5" x2="556" y2="803.5" stroke-width="1.5" stroke-linecap="butt"/>
<polygon points="571.8,803.5 556,813.1 556,793.9" fill="#333" stroke="#333" stroke-width="0.8"/>
<polygon points="612.8,803.5 628.6,793.9 628.6,813.1" fill="#333" stroke="#333" stroke-width="0.8"/>
<line x1="628.5" y1="803.5" x2="649.4" y2="803.5" stroke-width="1.5" stroke-linecap="butt"/>
<text x="595.9" y="811.6" font-size="23.5" text-anchor="middle" letter-spacing="1.0">56</text>
<polygon points="571.8,835 587.6,825.4 587.6,844.6" fill="#333" stroke="#333" stroke-width="0.8"/>
<polygon points="664.6,835 648.8,844.6 648.8,825.4" fill="#333" stroke="#333" stroke-width="0.8"/>
<rect x="594" y="826" width="43" height="21.5" fill="#fff" stroke="none"/>
<text x="617.6" y="843.3" font-size="23.5" text-anchor="middle">128</text>
<line x1="836.1" y1="734.7" x2="836.1" y2="765.2" stroke-width="1.5" stroke-linecap="butt"/>
<line x1="851.3" y1="734.7" x2="851.3" y2="765.2" stroke-width="1.5" stroke-linecap="butt"/>
<line x1="799.4" y1="749.1" x2="820.4" y2="749.1" stroke-width="1.5" stroke-linecap="butt"/>
<polygon points="836.1,749.1 820.3,758.7 820.3,739.5" fill="#333" stroke="#333" stroke-width="0.8"/>
<polygon points="851.3,749.1 867.1,739.5 867.1,758.7" fill="#333" stroke="#333" stroke-width="0.8"/>
<line x1="867" y1="749.1" x2="886.2" y2="749.1" stroke-width="1.5" stroke-linecap="butt"/>
<text x="889.5" y="757.5" font-size="23.5" text-anchor="start" letter-spacing="2.0">G 1/2</text>
</svg>
</body></html>
